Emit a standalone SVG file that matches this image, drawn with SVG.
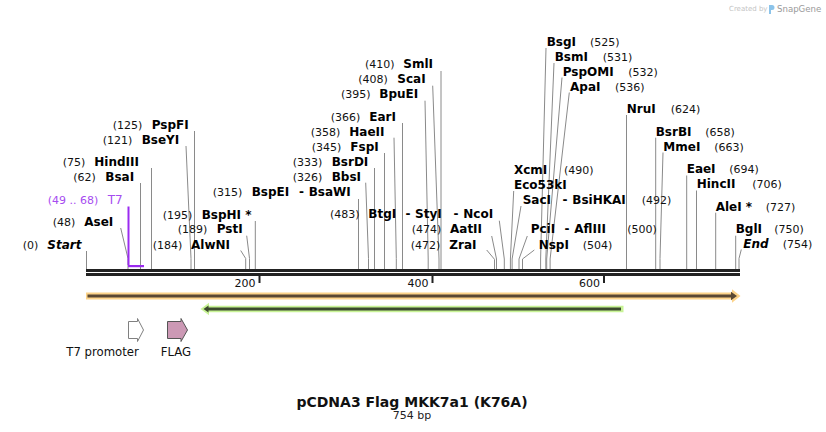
<svg xmlns="http://www.w3.org/2000/svg" width="826" height="432" viewBox="0 0 826 432">
<style>
  text { font-family: 'DejaVu Sans', Verdana, sans-serif; }
  .n { font-size: 11px; fill: #111; }
  .e { font-size: 12px; font-weight: bold; fill: #000; }
  .it { font-style: italic; }
  .p { font-size: 11px; fill: #a64cf0; }
  .ln { stroke: #8a8a8a; stroke-width: 1; fill: none; }
  .tk { font-size: 11px; fill: #111; text-anchor: end; }
  .ft { font-family: 'DejaVu Sans Condensed', 'DejaVu Sans', sans-serif; font-stretch: condensed; font-size: 13px; fill: #111; text-anchor: middle; }
</style>
<rect width="826" height="432" fill="#ffffff"/>

<!-- watermark -->
<g id="watermark">
  <text x="729" y="10.5" style="font-size:7px;fill:#c4c4c4">Created by</text>
  <path d="M769,5 h3 a2.5,2.5 0 0 1 0,5 h-1 v4 h-2 z" fill="#8cc4ea"/>
  <text x="777" y="11.5" style="font-size:8.6px;fill:#9a9a9a">SnapGene</text>
</g>

<!-- connectors: label lines -->
<g id="connectors">
  <path class="ln" d="M86.5,251 V269"/>
  <path class="ln" d="M120.7,228 L128,258.5 V269"/>
  <path class="ln" d="M140.5,183 V269"/>
  <path class="ln" d="M151.5,168 V269"/>
  <path class="ln" d="M186,146 L191,258.5 V269"/>
  <path class="ln" d="M194.5,131 V269"/>
  <path class="ln" d="M240.7,250.5 L245.7,258.5 V269"/>
  <path class="ln" d="M246.7,235.7 L249.5,258.5 V269"/>
  <path class="ln" d="M255.3,221 V269"/>
  <path class="ln" d="M358.5,199 V269"/>
  <path class="ln" d="M365.7,182.7 L368.5,258.5 V269"/>
  <path class="ln" d="M374.5,168 V269"/>
  <path class="ln" d="M384.5,153 V269"/>
  <path class="ln" d="M394,137.7 L396.3,258.5 V269"/>
  <path class="ln" d="M402.5,123 V269"/>
  <path class="ln" d="M425,100.7 L428.2,259 V269"/>
  <path class="ln" d="M432.7,85.7 L439,259 V269"/>
  <path class="ln" d="M441,71 V269"/>
  <path class="ln" d="M486.7,250 L494.5,259.3 V269"/>
  <path class="ln" d="M491.7,236 L496.5,259 V269"/>
  <path class="ln" d="M499.3,220.7 L504.3,259 V269"/>
  <path class="ln" d="M513.7,191 L510.4,259 V269"/>
  <path class="ln" d="M521,206 L512.1,259 V269"/>
  <path class="ln" d="M527.3,236 L519,259 V269"/>
  <path class="ln" d="M534.3,250 L522.5,259 V269"/>
  <path class="ln" d="M546,48 L540.6,259 V269"/>
  <path class="ln" d="M554,63 L545.8,259 V269"/>
  <path class="ln" d="M562,77.5 L546.7,259 V269"/>
  <path class="ln" d="M569.3,92.5 L550.1,259 V269"/>
  <path class="ln" d="M626.5,115 V269"/>
  <path class="ln" d="M655.7,137.7 V269"/>
  <path class="ln" d="M663,152.5 L660,258.5 V269"/>
  <path class="ln" d="M686.7,175.5 V269"/>
  <path class="ln" d="M696.5,190.5 V269"/>
  <path class="ln" d="M715.7,212.7 V269"/>
  <path class="ln" d="M735.7,235.7 V269"/>
  <path class="ln" d="M741.3,249.5 L739,258.5 V269"/>
</g>

<!-- backbone -->
<g id="backbone">
  <rect x="86" y="269" width="654" height="3" fill="#222"/>
  <rect x="86" y="273" width="654" height="3" fill="#222"/>
  <rect x="258.5" y="276" width="2" height="7" fill="#222"/>
  <rect x="431.5" y="276" width="2" height="7" fill="#222"/>
  <rect x="603" y="276" width="2" height="7" fill="#222"/>
  <text class="tk" x="255.5" y="286.5">200</text>
  <text class="tk" x="428.5" y="286.5">400</text>
  <text class="tk" x="600" y="286.5">600</text>
</g>

<!-- T7 primer -->
<g id="primer-T7">
  <path d="M128.5,206.5 V265" stroke="#9b2bf0" stroke-width="2" fill="none"/>
  <rect x="128" y="265" width="16" height="2.2" fill="#9b2bf0"/>
  <text class="p" x="47.7" y="204">(49 .. 68)</text>
  <text class="p" x="107.7" y="204" style="font-size:12px">T7</text>
</g>

<!-- sites -->
<g id="site-Start"><text class="n" x="22.7" y="249">(0)</text><text class="e it" x="47.3" y="249">Start</text></g>
<g id="site-AseI"><text class="n" x="52.7" y="226">(48)</text><text class="e" x="84.3" y="226">AseI</text></g>
<g id="site-BsaI"><text class="n" x="73.3" y="181">(62)</text><text class="e" x="105.3" y="181">BsaI</text></g>
<g id="site-HindIII"><text class="n" x="62.7" y="166">(75)</text><text class="e" x="94.3" y="166">HindIII</text></g>
<g id="site-BseYI"><text class="n" x="102.7" y="144">(121)</text><text class="e" x="141.7" y="144">BseYI</text></g>
<g id="site-PspFI"><text class="n" x="112.7" y="129">(125)</text><text class="e" x="151.7" y="129">PspFI</text></g>
<g id="site-AlwNI"><text class="n" x="152.7" y="249">(184)</text><text class="e" x="191" y="249">AlwNI</text></g>
<g id="site-PstI"><text class="n" x="177.7" y="233.3">(189)</text><text class="e" x="216.7" y="233.3">PstI</text></g>
<g id="site-BspHI"><text class="n" x="162.7" y="219">(195)</text><text class="e" x="201.7" y="219">BspHI *</text></g>
<g id="site-BspEI"><text class="n" x="212.7" y="195.7">(315)</text><text class="e" x="251.7" y="195.7">BspEI</text><text class="e" x="299" y="195.7">-</text><text class="e" x="308.7" y="195.7">BsaWI</text></g>
<g id="site-BbsI"><text class="n" x="292.7" y="180.7">(326)</text><text class="e" x="331.7" y="180.7">BbsI</text></g>
<g id="site-BsrDI"><text class="n" x="292.7" y="165.7">(333)</text><text class="e" x="331.7" y="165.7">BsrDI</text></g>
<g id="site-FspI"><text class="n" x="311.7" y="150.7">(345)</text><text class="e" x="350.3" y="150.7">FspI</text></g>
<g id="site-HaeII"><text class="n" x="310.7" y="135.7">(358)</text><text class="e" x="349.3" y="135.7">HaeII</text></g>
<g id="site-EarI"><text class="n" x="330.7" y="120.7">(366)</text><text class="e" x="369.3" y="120.7">EarI</text></g>
<g id="site-BpuEI"><text class="n" x="341" y="98.3">(395)</text><text class="e" x="379.3" y="98.3">BpuEI</text></g>
<g id="site-ScaI"><text class="n" x="358.3" y="83.3">(408)</text><text class="e" x="397.3" y="83.3">ScaI</text></g>
<g id="site-SmlI"><text class="n" x="365" y="68.3">(410)</text><text class="e" x="403.3" y="68.3">SmlI</text></g>
<g id="site-ZraI"><text class="n" x="410.7" y="249">(472)</text><text class="e" x="449.3" y="249">ZraI</text></g>
<g id="site-AatII"><text class="n" x="411.7" y="233.3">(474)</text><text class="e" x="450" y="233.3">AatII</text></g>
<g id="site-BtgI"><text class="n" x="330" y="217.7">(483)</text><text class="e" x="368.3" y="217.7">BtgI</text><text class="e" x="405.5" y="217.7">-</text><text class="e" x="415" y="217.7">StyI</text><text class="e" x="453.5" y="217.7">-</text><text class="e" x="463.3" y="217.7">NcoI</text></g>
<g id="site-XcmI"><text class="e" x="514" y="174">XcmI</text><text class="n" x="564" y="174">(490)</text></g>
<g id="site-Eco53kI"><text class="e" x="514" y="189">Eco53kI</text><text class="e" x="522.7" y="204.3">SacI</text><text class="e" x="562.5" y="204.3">-</text><text class="e" x="572.3" y="204.3">BsiHKAI</text><text class="n" x="641.7" y="204.3">(492)</text></g>
<g id="site-PciI"><text class="e" x="530.7" y="233.3">PciI</text><text class="e" x="564.5" y="233.3">-</text><text class="e" x="574.3" y="233.3">AflIII</text><text class="n" x="627.3" y="233.3">(500)</text></g>
<g id="site-NspI"><text class="e" x="538.7" y="249">NspI</text><text class="n" x="582.7" y="249">(504)</text></g>
<g id="site-BsgI"><text class="e" x="546.7" y="46">BsgI</text><text class="n" x="590" y="46">(525)</text></g>
<g id="site-BsmI"><text class="e" x="554.7" y="60.7">BsmI</text><text class="n" x="602.7" y="60.7">(531)</text></g>
<g id="site-PspOMI"><text class="e" x="562.7" y="75.7">PspOMI</text><text class="n" x="628.3" y="75.7">(532)</text></g>
<g id="site-ApaI"><text class="e" x="570" y="90.7">ApaI</text><text class="n" x="615" y="90.7">(536)</text></g>
<g id="site-NruI"><text class="e" x="626.7" y="113.3">NruI</text><text class="n" x="670.7" y="113.3">(624)</text></g>
<g id="site-BsrBI"><text class="e" x="655.7" y="135.7">BsrBI</text><text class="n" x="705.3" y="135.7">(658)</text></g>
<g id="site-MmeI"><text class="e" x="663.3" y="150.7">MmeI</text><text class="n" x="714.3" y="150.7">(663)</text></g>
<g id="site-EaeI"><text class="e" x="686.7" y="173.3">EaeI</text><text class="n" x="729.3" y="173.3">(694)</text></g>
<g id="site-HincII"><text class="e" x="696.7" y="188.3">HincII</text><text class="n" x="752.3" y="188.3">(706)</text></g>
<g id="site-AleI"><text class="e" x="715.7" y="210.7">AleI *</text><text class="n" x="765.7" y="210.7">(727)</text></g>
<g id="site-BglI"><text class="e" x="735.7" y="233.3">BglI</text><text class="n" x="774.3" y="233.3">(750)</text></g>
<g id="site-End"><text class="e it" x="743.3" y="248.3">End</text><text class="n" x="782.7" y="248.3">(754)</text></g>

<!-- ORF arrows -->
<g id="orf-forward">
  <path d="M86,296 H734" stroke="#fcd38a" stroke-width="7" fill="none"/>
  <polygon points="732,289.3 740.5,296 732,302.7" fill="#fcd38a"/>
  <path d="M87.5,296 H732" stroke="#5a4833" stroke-width="3" fill="none"/>
  <polygon points="731,291.8 737,296 731,300.2" fill="#5a4833"/>
</g>
<g id="orf-reverse">
  <path d="M207,309 H623.5" stroke="#c8f396" stroke-width="6.5" fill="none"/>
  <polygon points="209,302.7 200.5,309 209,315.3" fill="#c8f396"/>
  <path d="M208,309 H621" stroke="#3c4a2e" stroke-width="3" fill="none"/>
  <polygon points="208.5,305.5 203.5,309 208.5,312.5" fill="#3c4a2e"/>
</g>

<!-- features -->
<g id="feature-T7promoter">
  <polygon points="128.5,321.5 137.5,321.5 137.5,318.5 143.5,330 137.5,341.5 137.5,338.5 128.5,338.5" fill="#ffffff" stroke="#808080" stroke-width="1"/>
  <text class="ft" x="102.5" y="356">T7 promoter</text>
</g>
<g id="feature-FLAG">
  <polygon points="167.5,321.5 181,321.5 181,318.5 187.5,330 181,341.5 181,338.5 167.5,338.5" fill="#cc99b5" stroke="#555555" stroke-width="1"/>
  <text class="ft" x="176" y="356">FLAG</text>
</g>

<!-- title -->
<g id="title">
  <text x="412" y="406.7" text-anchor="middle" style="font-size:14px;font-weight:bold;fill:#111">pCDNA3 Flag MKK7a1 (K76A)</text>
  <text x="412" y="419.3" text-anchor="middle" style="font-size:11px;fill:#222">754 bp</text>
</g>
</svg>
